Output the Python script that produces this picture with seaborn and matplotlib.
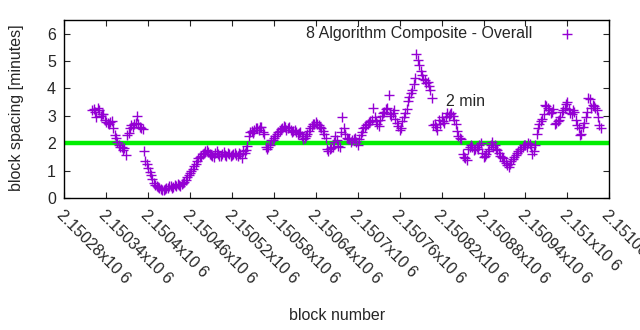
import numpy as np
import pandas as pd
import matplotlib
matplotlib.use("Agg")
import matplotlib.pyplot as plt
import seaborn as sns

# ---- data -------------------------------------------------------------
# block spacing, blocks 2150320, 2150324, ... (step 4)
block_start_a = 2150320
spacing_a = [
    3.22, 3.15, 3.30, 2.98, 3.05, 2.78, 2.72, 2.80, 2.30, 2.05,
    1.88, 1.75, 1.58, 2.38, 2.65, 2.70, 3.00, 2.60, 2.52, 1.35,
    1.10, 0.85, 0.55, 0.42, 0.35, 0.28, 0.33, 0.38, 0.42, 0.40,
    0.45, 0.48, 0.52, 0.58, 0.75, 0.92, 1.05, 1.25, 1.45, 1.55,
    1.65, 1.75, 1.62, 1.55, 1.65, 1.60, 1.55, 1.68, 1.52, 1.62,
    1.58, 1.65, 1.55, 1.62, 1.70, 1.75, 2.25, 2.45, 2.50, 2.55,
    2.58, 2.42, 1.85, 1.88, 2.10, 2.20, 2.35, 2.45, 2.55, 2.58,
    2.55, 2.50, 2.45, 2.40, 2.38, 2.25, 2.20, 2.35, 2.55, 2.70,
    2.78, 2.65, 2.55, 2.35, 1.80, 1.78, 1.85, 2.25, 1.90, 2.40,
    2.55, 2.20, 2.15, 2.10, 2.20, 1.95, 2.30, 2.55, 2.65, 2.78,
    2.85, 2.95, 2.70, 2.85, 3.10, 3.25, 3.75, 3.00, 3.20, 2.75,
    2.50, 2.80, 3.10, 3.55, 3.85, 4.15, 5.25, 4.85, 4.50, 4.30,
    4.25, 3.95, 2.65, 2.60, 2.85, 2.95, 2.75, 3.10, 3.05, 3.00,
    2.72, 2.28, 2.15, 1.50, 1.40, 1.85, 1.88, 1.80, 1.78, 2.00,
    1.50, 1.62, 1.80, 2.05, 1.95, 1.75, 1.55, 1.45, 1.28, 1.15,
    1.35, 1.50, 1.65, 1.80, 1.85, 1.92, 2.02, 1.88, 1.70, 2.35,
    2.70, 2.90, 3.40, 3.30, 3.10, 3.25, 2.75, 2.85, 3.15, 3.30,
    3.50, 3.10, 3.20, 2.85, 2.55, 2.35, 2.75, 3.15, 3.60, 3.40,
    3.30, 2.95, 2.55,
]
# blocks 2150322, 2150326, ... (step 4)
block_start_b = 2150322
spacing_b = [
    3.25, 2.95, 3.20, 3.08, 2.85, 2.75, 2.78, 2.55, 2.20, 1.95,
    1.85, 1.82, 2.30, 2.55, 2.60, 2.75, 2.70, 2.55, 1.72, 1.25,
    0.95, 0.70, 0.48, 0.40, 0.32, 0.30, 0.36, 0.44, 0.38, 0.46,
    0.50, 0.45, 0.55, 0.65, 0.85, 0.98, 1.18, 1.35, 1.50, 1.62,
    1.70, 1.68, 1.58, 1.50, 1.70, 1.52, 1.62, 1.58, 1.65, 1.55,
    1.62, 1.58, 1.66, 1.45, 1.65, 1.90, 2.40, 2.38, 2.55, 2.48,
    2.60, 2.35, 1.78, 1.95, 2.12, 2.28, 2.42, 2.52, 2.62, 2.50,
    2.58, 2.42, 2.48, 2.32, 2.42, 2.15, 2.28, 2.45, 2.62, 2.72,
    2.70, 2.60, 2.45, 2.20, 1.72, 1.82, 2.05, 2.10, 1.85, 2.95,
    2.35, 2.15, 2.05, 2.15, 2.05, 2.15, 2.40, 2.60, 2.72, 2.80,
    3.30, 2.80, 2.62, 3.00, 3.15, 3.30, 3.05, 3.10, 2.90, 2.62,
    2.55, 2.95, 3.25, 3.70, 3.95, 4.40, 5.05, 4.65, 4.35, 4.20,
    4.10, 3.65, 2.70, 2.50, 2.70, 2.80, 2.95, 2.98, 3.12, 2.85,
    2.45, 2.20, 1.62, 1.45, 1.78, 1.92, 1.75, 1.85, 1.92, 1.65,
    1.55, 1.72, 1.92, 1.88, 1.80, 1.65, 1.48, 1.35, 1.22, 1.25,
    1.42, 1.58, 1.72, 1.78, 1.95, 1.88, 1.98, 1.62, 1.95, 2.55,
    2.80, 3.05, 3.35, 3.20, 3.15, 2.70, 2.80, 2.95, 3.20, 3.45,
    3.25, 3.05, 3.15, 2.65, 2.30, 2.60, 2.95, 3.65, 3.30, 3.35,
    3.20, 2.65,
]
block_step = 4

x_ticks = [2150280 + 60 * i for i in range(14)]
x_tick_labels = ["2.15028x10 6", "2.15034x10 6", "2.1504x10 6", "2.15046x10 6",
                 "2.15052x10 6", "2.15058x10 6", "2.15064x10 6", "2.1507x10 6",
                 "2.15076x10 6", "2.15082x10 6", "2.15088x10 6", "2.15094x10 6",
                 "2.151x10 6", "2.15106x10 6"]
y_ticks = [0, 1, 2, 3, 4, 5, 6]
target_minutes = 2
series_label = "8 Algorithm Composite - Overall"
annot_text = "2 min"
annot_pos = (2150826, 3.53)

blocks_a = [block_start_a + block_step * i for i in range(len(spacing_a))]
blocks_b = [block_start_b + block_step * i for i in range(len(spacing_b))]

# ---- plot -------------------------------------------------------------
sns.set_style("white")
plt.rcParams["font.family"] = ["Liberation Sans", "DejaVu Sans"]
FS = 11.5

fig = plt.figure(figsize=(6.4, 3.3), dpi=100)
ax = fig.add_axes([0.1005, 0.4, 0.8515, 0.5394])

df = pd.DataFrame({"block": blocks_a + blocks_b,
                   "spacing": spacing_a + spacing_b}).sort_values("block")
sns.scatterplot(data=df, x="block", y="spacing", marker="+", color="#9400D3",
                s=45, linewidth=1.0, ax=ax, label=series_label, zorder=3)

ax.axhline(target_minutes, color="#00EE00", linewidth=3.2, zorder=2)

ax.set_xlim(x_ticks[0], x_ticks[-1])
ax.set_ylim(0, 6.5)
ax.set_yticks(y_ticks)
ax.set_yticklabels([str(v) for v in y_ticks], fontsize=FS)
ax.set_xticks(x_ticks)
ax.set_xticklabels(x_tick_labels, rotation=-45, ha="left", va="top",
                   rotation_mode="anchor", fontsize=FS)

ax.tick_params(axis="both", direction="in", length=4, width=0.8,
               top=True, right=True, bottom=True, left=True, pad=6)
ax.tick_params(axis="x", pad=7)
for sp in ax.spines.values():
    sp.set_color("black")
    sp.set_linewidth(1.0)

ax.set_ylabel("block spacing [minutes]", fontsize=FS)
ax.yaxis.set_label_coords(-0.074, 0.506)
ax.set_xlabel("block number", fontsize=FS)
ax.xaxis.set_label_coords(0.5, -0.66)
ax.xaxis.label.set_va("center")

ax.text(annot_pos[0], annot_pos[1], annot_text, fontsize=FS, ha="left", va="center")

leg = ax.legend(loc="upper right", markerfirst=False, frameon=False,
                fontsize=FS, bbox_to_anchor=(0.972, 1.027),
                handletextpad=1.15, borderaxespad=0.3)

fig.savefig("out.png", dpi=100)
